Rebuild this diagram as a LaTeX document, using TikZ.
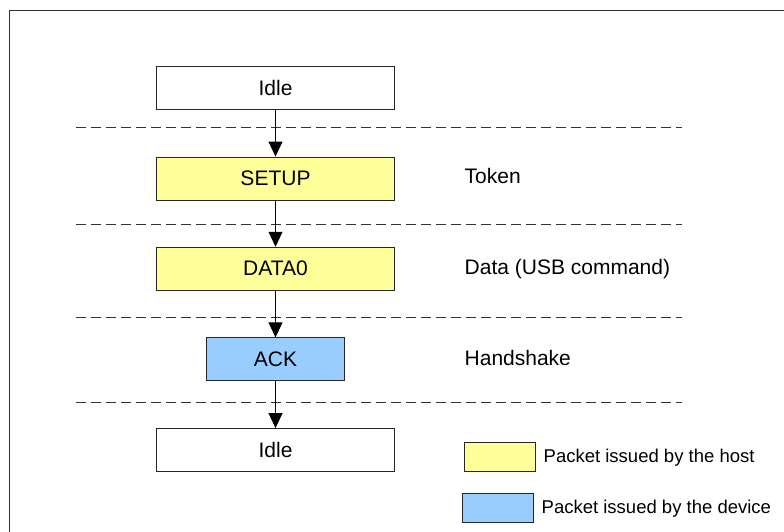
\documentclass[tikz,border=0pt]{standalone}
\usepackage{fontspec}
\setmainfont{Liberation Sans}
\usetikzlibrary{arrows.meta}
\definecolor{hostyellow}{HTML}{FFFF99}
\definecolor{deviceblue}{HTML}{99CCFF}
\tikzset{
  packet/.style={draw=black!85,line width=0.9pt,minimum height=43pt,inner sep=0pt,
    font=\fontsize{21}{25}\selectfont},
  wide/.style={packet,minimum width=238pt},
  narrow/.style={packet,minimum width=138pt},
  host/.style={fill=hostyellow},
  device/.style={fill=deviceblue},
  phase/.style={anchor=west,inner sep=0pt,font=\fontsize{21}{25}\selectfont},
  legendbox/.style={draw=black!85,line width=0.9pt,minimum width=71pt,minimum height=29pt,inner sep=0pt},
  legendtext/.style={anchor=west,inner sep=0pt,font=\fontsize{18.5}{22}\selectfont},
  flow/.style={-{Triangle[length=15pt,width=14pt]},line width=0.9pt},
  divider/.style={draw=black!80,line width=0.9pt,dash pattern=on 10pt off 5pt}
}
\begin{document}
\begin{tikzpicture}[x=1pt,y=-1pt]
   \useasboundingbox (0,0) rectangle (784,531);
   \draw[black!80,line width=1pt] (9,545) -- (9,10) -- (800,10);
   % dashed separators
   \foreach \y in {127.3,224.9,317.3,402}
      \draw[divider] (76,\y) -- (682,\y);
   % packets
   \node at (275.5,87.5) [wide] (idleA) {Idle};
   \node at (275.5,178.5) [wide,host] (setup) {SETUP};
   \node at (275.5,268.7) [wide,host] (data) {DATA0};
   \node at (275.5,359.3) [narrow,device] (ack) {ACK};
   \node at (275.5,450) [wide] (idleB) {Idle};
   \draw[flow] (idleA) -- (setup);
   \draw[flow] (setup) -- (data);
   \draw[flow] (data) -- (ack);
   \draw[flow] (ack) -- (idleB);
   % phase names
   \node at (464.5,176) [phase] (token) {Token};
   \node at (464.5,269) [phase] (datalbl) {Data (USB command)};
   \node at (464.5,358) [phase] (hand) {Handshake};
   % legend
   \node at (499.5,457) [legendbox,host] (keyhost) {};
   \node at (497.5,508) [legendbox,device] (keydev) {};
   \node at (543.5,457.5) [legendtext] (txthost) {Packet issued by the host};
   \node at (541.5,508.5) [legendtext] (txtdev) {Packet issued by the device};
\end{tikzpicture}
\end{document}
